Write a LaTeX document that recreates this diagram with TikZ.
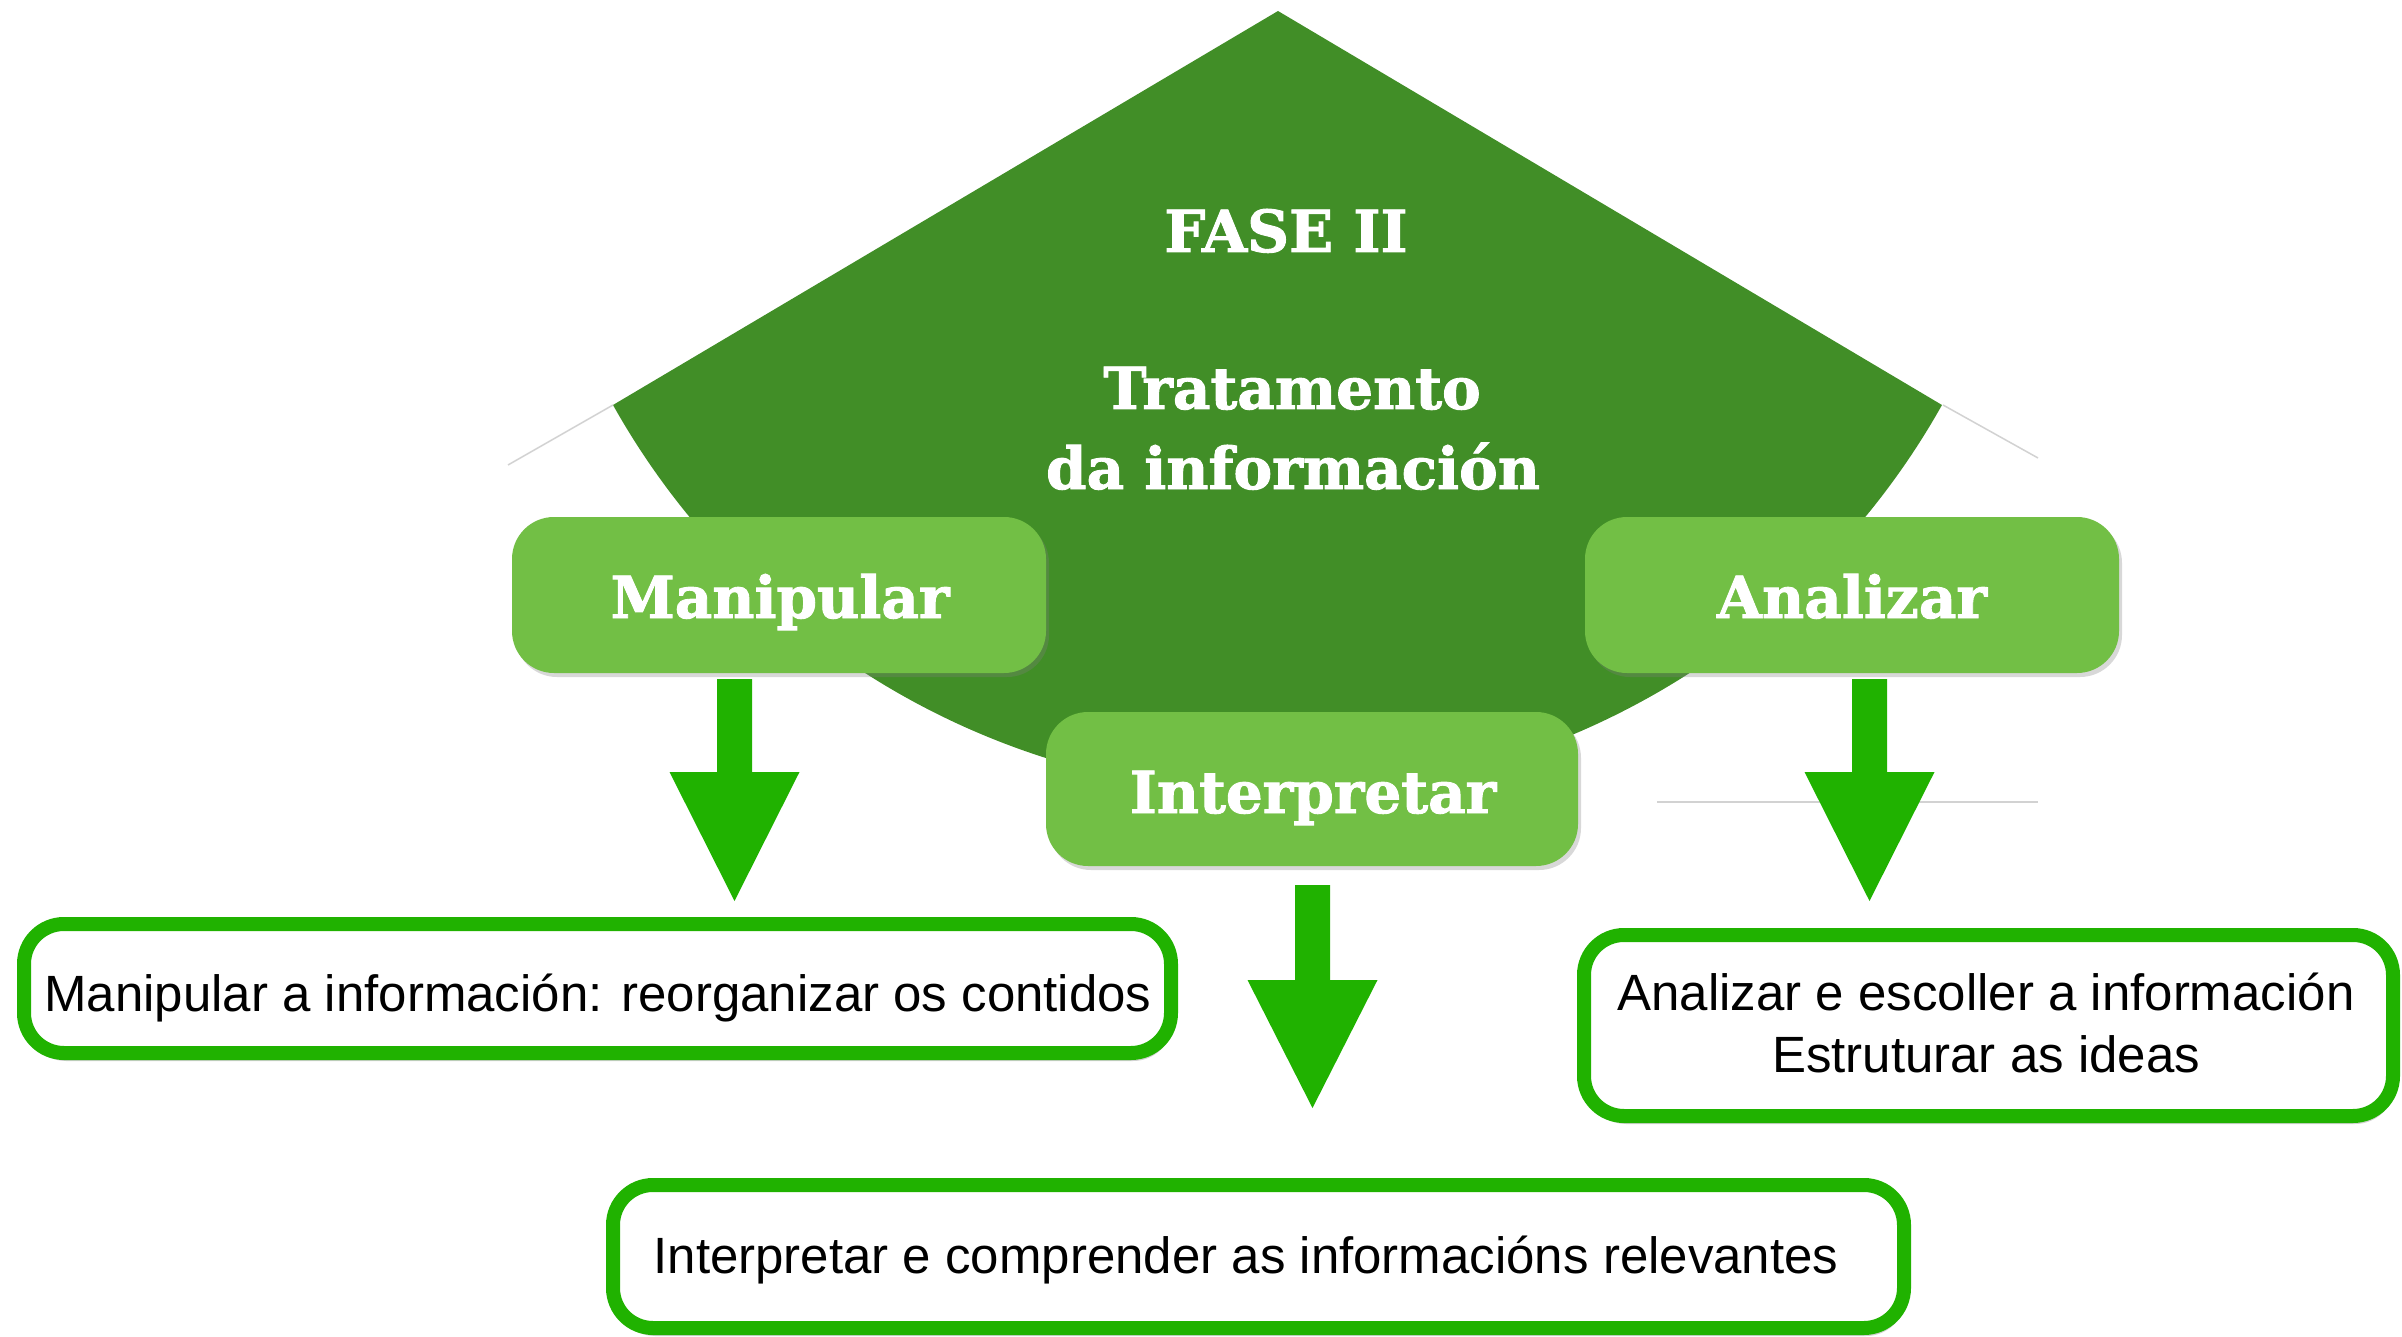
\documentclass[tikz,border=0pt]{standalone}
\usepackage{fontspec}
\setmainfont{Liberation Sans}
\newfontfamily\slabfont{DejaVu Serif}[BoldFeatures={FakeBold=1.6}]
\usetikzlibrary{shadows,calc}
\definecolor{darkgreen}{RGB}{65,142,39}
\definecolor{lightgreen}{RGB}{114,191,69}
\definecolor{brightgreen}{RGB}{32,178,0}
\definecolor{faintgrey}{RGB}{210,210,210}
\newcommand\blockarrow[3]{%
  \fill[brightgreen] ($(#1)+(-17.5,0)$) -- ($(#1)+(17.5,0)$) -- ($(#2)+(17.5,-#3)$) -- ($(#2)+(65,-#3)$) -- (#2) -- ($(#2)+(-65,-#3)$) -- ($(#2)+(-17.5,-#3)$) -- cycle;}
\begin{document}
\begin{tikzpicture}[x=1pt,y=-1pt,
  phasebox/.style={fill=lightgreen, draw=none, rounded corners=42pt, inner sep=0pt,
    drop shadow={opacity=0.3, shadow xshift=3pt, shadow yshift=-4pt}},
  outbox/.style={draw=brightgreen, fill=white, line width=14pt, rounded corners=40pt, inner sep=0pt,
    drop shadow={opacity=0.35, shadow xshift=2pt, shadow yshift=-8pt}},
  slabtext/.style={text=white, inner sep=0pt, anchor=base, font=\slabfont\bfseries\fontsize{58}{58}\selectfont},
  bodytext/.style={text=black, inner sep=0pt, anchor=base, font=\fontsize{51}{51}\selectfont},
  faintline/.style={draw=faintgrey, line width=1.5pt}]
\useasboundingbox (0,0) rectangle (2402,1337);
\fill[white] (0,0) rectangle (2402,1337);

% large dark shape
\fill[darkgreen] (1278,11) -- (613,405) arc[start angle=150.7, end angle=29.3, radius=762] -- cycle;
\draw[faintline] (613,405) -- (508,465);
\draw[faintline] (1943,405) -- (2038,458);
\draw[faintline] (1657,802) -- (2038,802);

\node[slabtext] (fase) at (1286,252) {FASE II};
\node[slabtext] (trat1) at (1292,409) {Tratamento};
\node[slabtext] (trat2) at (1293,489) {da información};

% phase boxes
\node[phasebox, minimum width=534pt, minimum height=156pt] (manip) at (779,595) {};
\node[phasebox, minimum width=534pt, minimum height=156pt] (anal) at (1852,595) {};
\node[phasebox, minimum width=532pt, minimum height=154pt] (interp) at (1312,789) {};
\node[slabtext] (manipt) at (780,618) {Manipular};
\node[slabtext] (analt) at (1852,618) {Analizar};
\node[slabtext] (interpt) at (1313,813) {Interpretar};

% arrows
\coordinate (a1s) at (734.5,679);
\coordinate (a1e) at (734.5,901);
\coordinate (a2s) at (1312.5,885);
\coordinate (a2e) at (1312.5,1108);
\coordinate (a3s) at (1869.5,679);
\coordinate (a3e) at (1869.5,901);
\blockarrow{a1s}{a1e}{129}
\blockarrow{a2s}{a2e}{128}
\blockarrow{a3s}{a3e}{129}

% outcome boxes
\node[outbox, minimum width=1147pt, minimum height=129pt] (out1) at (597.5,988.5) {};
\node[outbox, minimum width=809pt, minimum height=181pt] (out2) at (1988.5,1025.5) {};
\node[outbox, minimum width=1291pt, minimum height=143pt] (out3) at (1258.5,1256.5) {};
\node[bodytext] (out1t) at (598,1011) {Manipular a información: reorganizar os contidos};
\node[bodytext] (out2t) at (1986,1010) {Analizar e escoller a información};
\node[bodytext] (out2u) at (1986,1072) {Estruturar as ideas};
\node[bodytext] (out3t) at (1246,1273) {Interpretar e comprender as informacións relevantes};
\end{tikzpicture}
\end{document}
